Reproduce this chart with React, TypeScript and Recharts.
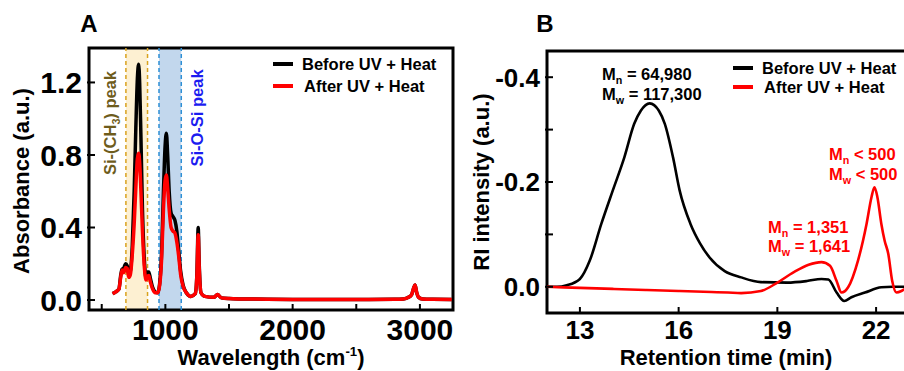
import React from 'react'
import { LineChart, Line, XAxis, YAxis, ReferenceArea, ReferenceLine } from 'recharts'

const FONT = '"Liberation Sans", Arial, Helvetica, sans-serif'

// panel A - FTIR
const wavenumber = [
  585, 610, 635, 650, 660, 672, 688, 700, 712, 725,
  740, 755, 768, 780, 790, 798, 808, 820, 835, 848,
  858, 870, 882, 900, 920, 940, 955, 970, 985, 998,
  1008, 1018, 1030, 1045, 1060, 1075, 1090, 1105, 1120, 1140,
  1165, 1200, 1235, 1248, 1258, 1266, 1280, 1310, 1380, 1410,
  1440, 1500, 1600, 1700, 1800, 2000, 2200, 2400, 2600, 2800,
  2870, 2910, 2935, 2950, 2962, 2975, 2990, 3020, 3100, 3250,
]
const absBefore = [
  0.035, 0.045, 0.06, 0.14, 0.17, 0.175, 0.2, 0.19, 0.145, 0.16,
  0.3, 0.6, 0.95, 1.22, 1.3, 1.2, 0.9, 0.5, 0.22, 0.12,
  0.155, 0.155, 0.12, 0.07, 0.045, 0.04, 0.09, 0.25, 0.6, 0.85,
  0.92, 0.8, 0.6, 0.48, 0.46, 0.44, 0.38, 0.27, 0.16, 0.08,
  0.04, 0.02, 0.035, 0.15, 0.4, 0.2, 0.04, 0.02, 0.015, 0.03,
  0.012, 0.008, 0.006, 0.005, 0.004, 0.003, 0.003, 0.003, 0.003, 0.004,
  0.006, 0.015, 0.03, 0.065, 0.083, 0.04, 0.015, 0.006, 0.004, 0.003,
]
const absAfter = [
  0.035, 0.045, 0.06, 0.13, 0.165, 0.15, 0.18, 0.175, 0.125, 0.14,
  0.25, 0.42, 0.62, 0.78, 0.81, 0.76, 0.6, 0.38, 0.18, 0.11,
  0.13, 0.135, 0.1, 0.06, 0.04, 0.04, 0.08, 0.22, 0.5, 0.66,
  0.69, 0.62, 0.5, 0.4, 0.38, 0.37, 0.32, 0.24, 0.14, 0.075,
  0.04, 0.02, 0.035, 0.14, 0.36, 0.18, 0.04, 0.02, 0.015, 0.03,
  0.012, 0.008, 0.006, 0.005, 0.004, 0.003, 0.003, 0.003, 0.003, 0.004,
  0.006, 0.015, 0.03, 0.065, 0.083, 0.04, 0.015, 0.006, 0.004, 0.003,
]
const ftirXTicks = [500, 1000, 1500, 2000, 2500, 3000]
const ftirYTicks = [0, 0.4, 0.8, 1.2]
const ch3Band = [690, 860]
const siosiBand = [950, 1125]

// panel B - GPC
const timeBefore = [
  12.0, 12.3, 12.6, 13.0, 13.3, 13.65, 14.0, 14.35, 14.65, 14.85,
  15.12, 15.4, 15.58, 15.83, 16.03, 16.36, 16.65, 16.94, 17.4, 17.9,
  18.5, 19.3, 19.9, 20.34, 20.55, 20.8, 21.03, 21.25, 21.66, 22.16,
  22.5, 23.0,
]
const riBefore = [
  0.0, 0.0, -0.003, -0.015, -0.05, -0.12, -0.184, -0.247, -0.311, -0.336,
  -0.35, -0.336, -0.311, -0.247, -0.184, -0.12, -0.083, -0.056, -0.03, -0.018,
  -0.009, -0.008, -0.011, -0.015, -0.014, 0.011, 0.027, 0.02, 0.011, 0.001,
  0.0, 0.0,
]
const timeAfter = [
  12.0, 13.0, 14.0, 15.0, 16.0, 17.0, 17.5, 17.9, 18.5, 19.0,
  19.5, 19.95, 20.34, 20.6, 20.8, 20.95, 21.15, 21.45, 21.71, 21.86,
  21.95, 22.04, 22.16, 22.26, 22.37, 22.49, 22.62, 22.77, 22.9, 23.0,
]
const riAfter = [
  0.0, 0.002, 0.004, 0.006, 0.008, 0.01, 0.011, 0.012, 0.008, -0.008,
  -0.028, -0.042, -0.047, -0.04, -0.011, 0.011, 0.001, -0.05, -0.12, -0.171,
  -0.19, -0.171, -0.12, -0.088, -0.063, -0.011, 0.011, 0.008, 0.003, 0.0,
]
const gpcXTicks = [13, 16, 19, 22]
const gpcYTicks = [-0.4, -0.3, -0.2, -0.1, 0]

const seriesNames = ['Before UV + Heat', 'After UV + Heat']
const seriesColors = ['#000000', '#ff0000']

const ftirData = wavenumber.map((w, i) => ({ w, before: absBefore[i], after: absAfter[i] }))
const gpcBeforeData = timeBefore.map((t, i) => ({ t, ri: riBefore[i] }))
const gpcAfterData = timeAfter.map((t, i) => ({ t, ri: riAfter[i] }))

function BottomTick(props: any) {
  const { x, y, payload, isMajor, fontSize, dy } = props
  const major = isMajor(payload.value)
  return (
    <g>
      <line x1={x} x2={x} y1={y} y2={y - 6} stroke="#000" strokeWidth={2} />
      {major && (
        <text x={x} y={y + dy} textAnchor="middle" fontFamily={FONT} fontWeight="bold" fontSize={fontSize} fill="#000">
          {payload.value}
        </text>
      )}
    </g>
  )
}

function LeftTick(props: any) {
  const { x, y, payload, isMajor, fontSize } = props
  const v = payload.value
  const major = isMajor(v)
  return (
    <g>
      <line x1={x - 2} x2={x + 6} y1={y} y2={y} stroke="#000" strokeWidth={2} />
      {major && (
        <text x={x - 7} y={y} dy="0.36em" textAnchor="end" fontFamily={FONT} fontWeight="bold" fontSize={fontSize} fill="#000">
          {Math.abs(v) < 1e-9 ? '0.0' : v.toFixed(1)}
        </text>
      )}
    </g>
  )
}

function Txt({ x, y, anchor = 'middle', rotate = 0, size = 16.5, color = '#000', children }: any) {
  const tx = anchor === 'start' ? '0' : anchor === 'end' ? '-100%' : '-50%'
  return (
    <div
      style={{
        position: 'absolute',
        left: x,
        top: y,
        transform: `translate(${tx}, -50%)${rotate ? ` rotate(${rotate}deg)` : ''}`,
        transformOrigin: anchor === 'middle' ? 'center' : undefined,
        whiteSpace: 'nowrap',
        lineHeight: 1,
        fontSize: size,
        fontWeight: 'bold',
        color,
        fontFamily: FONT,
      }}
    >
      {children}
    </div>
  )
}

const sub = (s: string) => (
  <span style={{ fontSize: '0.65em', position: 'relative', top: '0.35em' }}>{s}</span>
)

function LegendBox({ x, y, gap }: { x: number; y: number; gap: number }) {
  return (
    <>
      {seriesNames.map((name, i) => (
        <React.Fragment key={name}>
          <div style={{ position: 'absolute', left: x, top: y + i * gap - 2, width: 20, height: 4, background: seriesColors[i] }} />
          <Txt x={x + 29 + i * 2} y={y + i * gap} anchor="start">{name}</Txt>
        </React.Fragment>
      ))}
    </>
  )
}

function FtirPanel() {
  return (
    <LineChart width={460} height={371} data={ftirData} margin={{ top: 48, right: 7, bottom: 0, left: 0 }}>
      <XAxis
        type="number"
        dataKey="w"
        domain={[400, 3260]}
        ticks={ftirXTicks}
        interval={0}
        height={61}
        axisLine={false}
        tickLine={false}
        tickSize={0}
        tickMargin={0}
        allowDataOverflow
        tick={<BottomTick isMajor={(v: number) => v % 1000 === 0} fontSize={30} dy={30} />}
      />
      <YAxis
        type="number"
        domain={[-0.055, 1.39]}
        ticks={ftirYTicks}
        interval={0}
        width={89}
        axisLine={false}
        tickLine={false}
        tickSize={0}
        tickMargin={0}
        allowDataOverflow
        tick={<LeftTick isMajor={() => true} fontSize={30} />}
      />
      <ReferenceArea x1={ch3Band[0]} x2={ch3Band[1]} y1={-0.055} y2={1.39} fill="#fdf0d2" fillOpacity={1} stroke="none" ifOverflow="visible" />
      <ReferenceArea x1={siosiBand[0]} x2={siosiBand[1]} y1={-0.055} y2={1.39} fill="#c2d7ed" fillOpacity={1} stroke="none" ifOverflow="visible" />
      {ch3Band.map((b) => (
        <ReferenceLine key={`c${b}`} x={b} stroke="#d9a21e" strokeWidth={1.5} strokeDasharray="4 3" />
      ))}
      {siosiBand.map((b) => (
        <ReferenceLine key={`s${b}`} x={b} stroke="#2d8fd5" strokeWidth={1.5} strokeDasharray="4 3" />
      ))}
      <Line type="monotone" dataKey="before" stroke={seriesColors[0]} strokeWidth={3.5} dot={false} isAnimationActive={false} />
      <Line type="monotone" dataKey="after" stroke={seriesColors[1]} strokeWidth={3.5} dot={false} isAnimationActive={false} />
      <ReferenceArea x1={400} x2={3260} y1={-0.055} y2={1.39} fill="none" stroke="#000" strokeWidth={3} ifOverflow="visible" />
    </LineChart>
  )
}

function GpcPanel() {
  return (
    <LineChart width={464} height={371} margin={{ top: 51, right: 5, bottom: 0, left: 0 }}>
      <XAxis
        type="number"
        dataKey="t"
        domain={[12, 23]}
        ticks={gpcXTicks}
        interval={0}
        height={58}
        axisLine={false}
        tickLine={false}
        tickSize={0}
        tickMargin={0}
        allowDataOverflow
        tick={<BottomTick isMajor={() => true} fontSize={26} dy={26} />}
      />
      <YAxis
        type="number"
        domain={[-0.45, 0.05]}
        reversed
        ticks={gpcYTicks}
        interval={0}
        width={97}
        axisLine={false}
        tickLine={false}
        tickSize={0}
        tickMargin={0}
        allowDataOverflow
        tick={<LeftTick isMajor={(v: number) => Math.abs(Math.round(v * 10)) % 2 === 0} fontSize={26} />}
      />
      <Line data={gpcBeforeData} type="monotone" dataKey="ri" stroke={seriesColors[0]} strokeWidth={2.6} dot={false} isAnimationActive={false} />
      <Line data={gpcAfterData} type="monotone" dataKey="ri" stroke={seriesColors[1]} strokeWidth={2.6} dot={false} isAnimationActive={false} />
      <ReferenceArea x1={12} x2={23} y1={-0.45} y2={0.05} fill="none" stroke="#000" strokeWidth={3} ifOverflow="visible" />
    </LineChart>
  )
}

export default function App() {
  return (
    <div style={{ position: 'absolute', left: 0, top: 0, width: 904, height: 371, overflow: 'hidden', background: '#fff', fontFamily: FONT }}>
      <div style={{ position: 'absolute', left: 0, top: 0 }}>
        <FtirPanel />
      </div>
      <div style={{ position: 'absolute', left: 450, top: 0 }}>
        <GpcPanel />
      </div>

      <Txt x={89} y={24} size={24}>A</Txt>
      <Txt x={545} y={24} size={24}>B</Txt>

      <Txt x={22} y={181} size={22} rotate={-90}>Absorbance (a.u.)</Txt>
      <Txt x={271} y={358} size={22}>
        Wavelength (cm<span style={{ fontSize: '0.6em', position: 'relative', top: '-0.7em' }}>-1</span>)
      </Txt>
      <Txt x={482} y={182} size={22} rotate={-90}>RI intensity (a.u.)</Txt>
      <Txt x={726} y={358} size={22}>Retention time (min)</Txt>

      <Txt x={110} y={123} rotate={-90} color="#6e5c1c">Si-(CH{sub('3')}) peak</Txt>
      <Txt x={197} y={118} rotate={-90} color="#1c1cf0">Si-O-Si peak</Txt>

      <LegendBox x={273} y={64} gap={22} />
      <LegendBox x={733} y={68} gap={19} />

      <Txt x={602} y={74} anchor="start">M{sub('n')} = 64,980</Txt>
      <Txt x={602} y={94} anchor="start">M{sub('w')} = 117,300</Txt>
      <Txt x={829} y={154} anchor="start" color="#ff0000">M{sub('n')} &lt; 500</Txt>
      <Txt x={829} y={174} anchor="start" color="#ff0000">M{sub('w')} &lt; 500</Txt>
      <Txt x={768} y={227} anchor="start" color="#ff0000">M{sub('n')} = 1,351</Txt>
      <Txt x={768} y={246} anchor="start" color="#ff0000">M{sub('w')} = 1,641</Txt>
    </div>
  )
}
